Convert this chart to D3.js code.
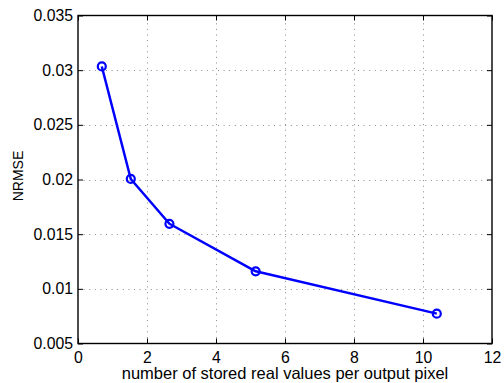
<!DOCTYPE html>
<html>
<head>
<meta charset="utf-8">
<script src="https://cdn.jsdelivr.net/npm/d3@7"></script>
<style>
  html, body { margin: 0; padding: 0; background: #fff; }
  svg { display: block; font-family: "Liberation Sans", Arial, Helvetica, sans-serif; }
</style>
</head>
<body>
<svg id="chart" width="504" height="383"></svg>
<script>
// Reconstruction error versus storage cost
const storedValues = [0.69, 1.53, 2.65, 5.15, 10.40];
const nrmse = [0.03034, 0.02005, 0.01595, 0.01160, 0.00773];
const xTicks = [0, 2, 4, 6, 8, 10, 12];
const yTicks = [0.005, 0.01, 0.015, 0.02, 0.025, 0.03, 0.035];
const xLabel = "number of stored real values per output pixel";
const yLabel = "NRMSE";

const svg = d3.select("#chart");
const m = { left: 78, right: 492, top: 15.5, bottom: 343.5 };
const fontSize = "15.8px";
const labelSize = "16.5px";

const x = d3.scaleLinear().domain([0, 12]).range([m.left, m.right]);
const y = d3.scaleLinear().domain([0.005, 0.035]).range([m.bottom, m.top]);

// dotted grid
const grid = svg.append("g").attr("stroke", "#8a8a8a").attr("stroke-width", 1)
  .attr("stroke-dasharray", "1,4.6");
grid.selectAll("line.gx").data(xTicks.slice(1, -1)).join("line")
  .attr("x1", d => Math.round(x(d)) + 0.5).attr("x2", d => Math.round(x(d)) + 0.5)
  .attr("y1", m.bottom).attr("y2", m.top);
grid.selectAll("line.gy").data(yTicks.slice(1, -1)).join("line")
  .attr("y1", d => Math.round(y(d)) + 0.5).attr("y2", d => Math.round(y(d)) + 0.5)
  .attr("x1", m.left).attr("x2", m.right);

// axes with inward ticks
const fmtY = d => String(+d.toFixed(3));
const tickLen = 5;
const bottomAxis = d3.axisBottom(x).tickValues(xTicks).tickSizeInner(-tickLen).tickSizeOuter(0).tickPadding(8);
const topAxis = d3.axisTop(x).tickValues(xTicks).tickSizeInner(-tickLen).tickSizeOuter(0).tickFormat("");
const leftAxis = d3.axisLeft(y).tickValues(yTicks).tickSizeInner(-tickLen).tickSizeOuter(0).tickPadding(5).tickFormat(fmtY);
const rightAxis = d3.axisRight(y).tickValues(yTicks).tickSizeInner(-tickLen).tickSizeOuter(0).tickFormat("");

function style(g) {
  g.select(".domain").remove();
  g.selectAll("line").attr("stroke", "#000").attr("stroke-width", 1);
  g.selectAll("text").attr("fill", "#000").style("font-size", fontSize);
}
svg.append("g").attr("transform", `translate(0,${m.bottom})`).call(bottomAxis).call(style);
svg.append("g").attr("transform", `translate(0,${m.top})`).call(topAxis).call(style);
svg.append("g").attr("transform", `translate(${m.left},0)`).call(leftAxis).call(style);
svg.append("g").attr("transform", `translate(${m.right},0)`).call(rightAxis).call(style);

// box
svg.append("rect")
  .attr("x", m.left).attr("y", m.top)
  .attr("width", m.right - m.left).attr("height", m.bottom - m.top)
  .attr("fill", "none").attr("stroke", "#000").attr("stroke-width", 1.4);

// labels
svg.append("text").attr("x", x(6)).attr("y", 379)
  .attr("text-anchor", "middle").style("font-size", labelSize).text(xLabel);
svg.append("text").attr("transform", `translate(23,176) rotate(-90)`)
  .attr("text-anchor", "middle").style("font-size", "14px").text(yLabel);

// data line and markers
const pts = storedValues.map((v, i) => [v, nrmse[i]]);
svg.append("path").datum(pts)
  .attr("fill", "none").attr("stroke", "#0000ff").attr("stroke-width", 2.5)
  .attr("stroke-linejoin", "round")
  .attr("d", d3.line().x(d => x(d[0])).y(d => y(d[1])));
svg.selectAll("circle.pt").data(pts).join("circle")
  .attr("cx", d => x(d[0])).attr("cy", d => y(d[1])).attr("r", 4)
  .attr("fill", "none").attr("stroke", "#0000ff").attr("stroke-width", 2.2);
</script>
</body>
</html>
